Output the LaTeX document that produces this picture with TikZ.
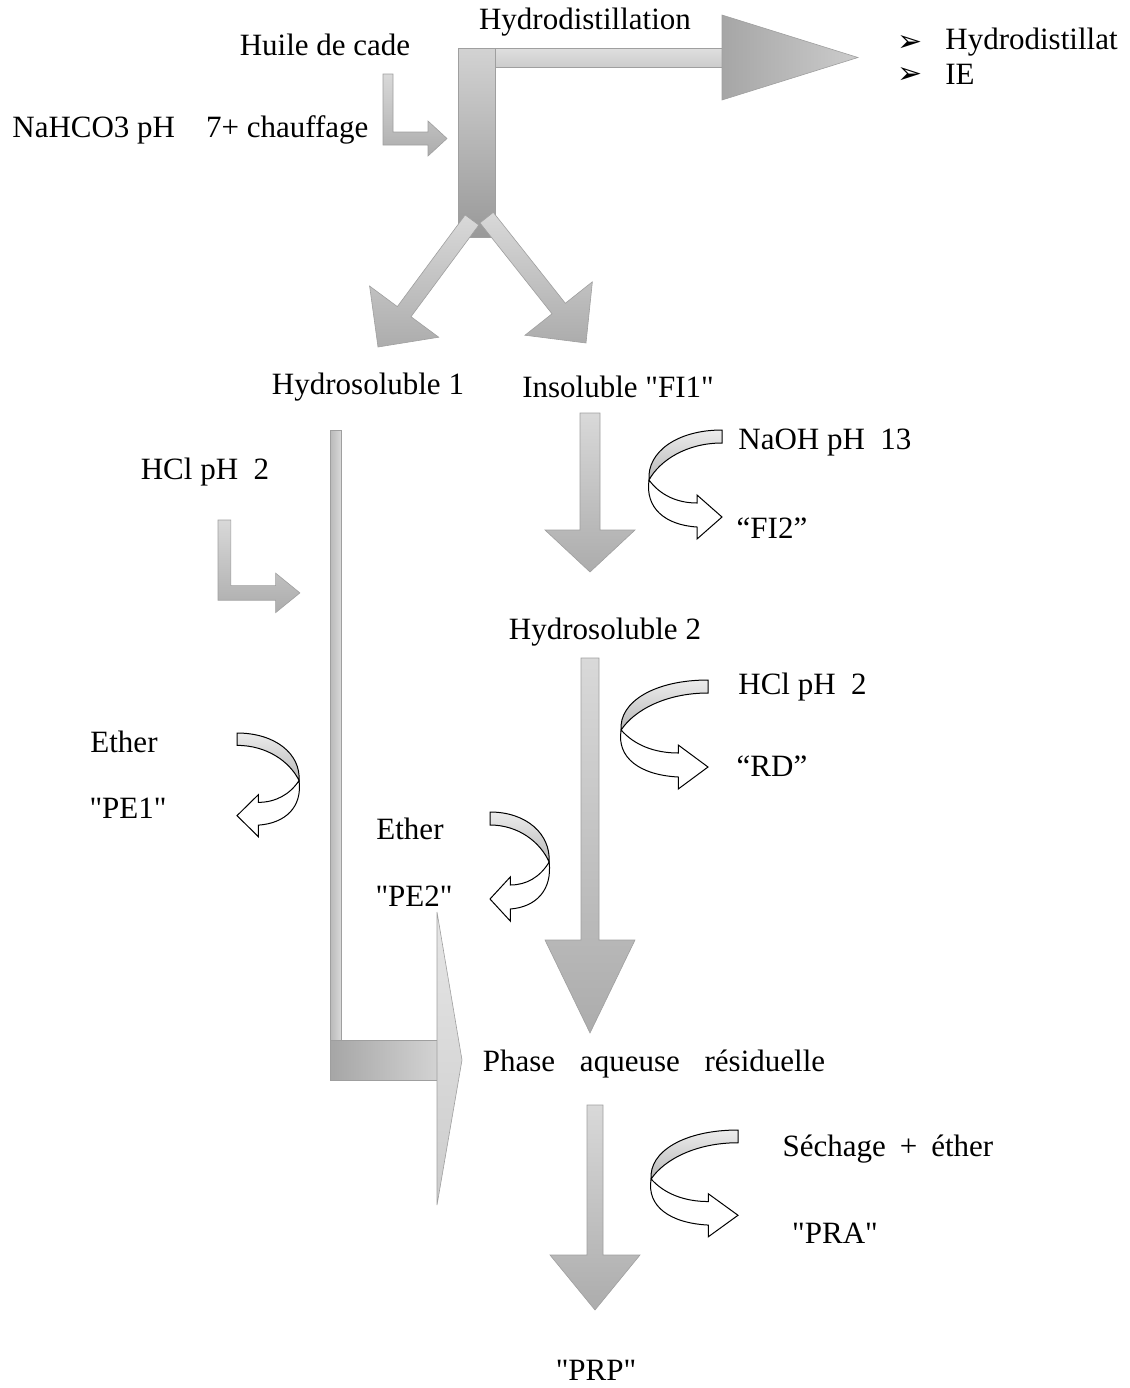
\documentclass[tikz,border=0pt]{standalone}
\usepackage{fontspec}
\setmainfont{Liberation Serif}[Ligatures=TeXOff]
\newfontfamily\bulletfont{DejaVu Sans}
\usepackage{tikz}
\usetikzlibrary{positioning}
\newcommand{\labelsize}{\fontsize{15.5}{18}\selectfont}
\tikzset{
    textnode/.style = {draw=none, fill=none, rectangle, inner sep=0em, node distance=0em, font=\labelsize},
    bulletnode/.style = {draw=none, fill=none, inner sep=0em, node distance=0em, font=\bulletfont\fontsize{15}{17}\selectfont},
    blockshade/.style = {draw=gray!75, line width=0.3pt, top color=gray!30, bottom color=gray!65},
    headshade/.style = {draw=gray!75, line width=0.3pt, left color=gray!70, right color=gray!40},
    barshade/.style = {draw=gray!75, line width=0.3pt, left color=gray!55, right color=gray!30},
    ribbonfront/.style = {draw=black, line width=0.5pt, top color=gray!15, bottom color=gray!55},
    ribbonback/.style = {draw=black, line width=0.5pt, fill=white}
}
\newcommand{\blockarrow}[7]{%
  \begin{scope}[shift={#2}, rotate=#3]
    \path[#1] (-#4,-#5) -- (-#6,-#5) -- (-#6,-#7) -- (0,0) -- (-#6,#7) -- (-#6,#5) -- (-#4,#5) -- cycle;
  \end{scope}}
\newcommand{\bentarrow}[3]{%
  \begin{scope}[shift={#1}, xscale=#2, yscale=#3]
    \path[blockshade] (0,0) -- (10,0) -- (10,58) -- (45,58) -- (45,47) -- (64,64.5) -- (45,82) -- (45,71) -- (0,71) -- cycle;
  \end{scope}}
\newcommand{\uturnarrow}[3]{%
  \begin{scope}[shift={#1}, xscale=#2, yscale=#3]
    \path[ribbonback] (-73,50) .. controls (-62,65) and (-45,73) .. (-25,73) -- (-25,65) -- (0,87) -- (-25,109) -- (-25,97) .. controls (-57,95) and (-77,78) .. (-73,50) -- cycle;
    \path[ribbonfront] (0,0) .. controls (-45,0) and (-75,22) .. (-73,50) .. controls (-62,30) and (-35,13) .. (0,13) -- cycle;
  \end{scope}}

\begin{document}
\begin{tikzpicture}[x=0.5pt, y=-0.5pt]
    \useasboundingbox (0,0) rectangle (1130,1388);

    \path[blockshade, top color=gray!25, bottom color=gray!40] (495,48) rectangle (722,67);
    \path[headshade] (722,15) -- (858,57.5) -- (722,100) -- cycle;
    \path[blockshade, top color=gray!35, bottom color=gray!80] (458,48) rectangle (495,237);
    \blockarrow{blockshade}{(378,347)}{-126.5}{158}{8.5}{44}{43}
    \blockarrow{blockshade}{(586,343)}{-51.6}{160}{8.5}{44}{43}

    \bentarrow{(383,74)}{1}{1}
    \bentarrow{(218,520)}{1.28}{1.13}

    \blockarrow{blockshade}{(590,572)}{-90}{159}{10}{42}{45}
    \blockarrow{blockshade}{(590,1033)}{-90}{375}{9}{93}{45}
    \blockarrow{blockshade}{(595,1310)}{-90}{205}{8}{55}{45}

    \path[barshade] (330,430) rectangle (341,1080);
    \path[barshade, left color=gray!70, right color=gray!35] (330,1040) rectangle (437,1080);
    \path[blockshade, top color=gray!20, bottom color=gray!40] (437,912) -- (462,1060) -- (437,1205) -- cycle;

    \uturnarrow{(722,430)}{1}{1}
    \uturnarrow{(708,680)}{1.19}{1}
    \uturnarrow{(738,1130)}{1.19}{0.98}
    \uturnarrow{(237,733)}{-0.85}{0.95}
    \uturnarrow{(490,812)}{-0.81}{1}

    \node [textnode, name=huile] at (325,45) {Huile de cade};
    \node [textnode, name=hydrodist] at (585,22) {Hydrodistillation};
    \node [textnode, name=nahco, anchor=west] at (12,130) {NaHCO3 pH\quad 7+ chauffage};
    \node [bulletnode, name=bullet1] at (910,43) {➢};
    \node [bulletnode, name=bullet2, below of=bullet1, yshift=-16pt] {➢};
    \node [textnode, name=distillat, anchor=west] at (945,42) {Hydrodistillat};
    \node [textnode, name=ie, anchor=west] at (945,74) {IE};

    \node [textnode, name=hydro1] at (368,387) {Hydrosoluble 1};
    \node [textnode, name=insol] at (618,387) {Insoluble "FI1"};
    \node [textnode, name=naoh, anchor=west] at (738,443) {NaOH pH\ \ 13};
    \node [textnode, name=fi2] at (772,528) {“FI2”};
    \node [textnode, name=hclleft] at (205,472) {HCl pH\ \ 2};
    \node [textnode, name=hydro2] at (605,632) {Hydrosoluble 2};
    \node [textnode, name=hclright, anchor=west] at (738,687) {HCl pH\ \ 2};
    \node [textnode, name=rd, below of=fi2, yshift=-119pt] {“RD”};

    \node [textnode, name=ether1] at (124,742) {Ether};
    \node [textnode, name=pe1, below of=ether1, xshift=2pt, yshift=-33pt] {"PE1"};
    \node [textnode, name=ether2] at (410,829) {Ether};
    \node [textnode, name=pe2, below of=ether2, xshift=2pt, yshift=-33.5pt] {"PE2"};

    \node [textnode, name=phase] at (654,1064) {Phase\hspace{0.8em}aqueuse\hspace{0.8em}résiduelle};
    \node [textnode, name=sechage] at (888,1149) {Séchage\hspace{0.45em}+\hspace{0.45em}éther};
    \node [textnode, name=pra] at (835,1233) {"PRA"};
    \node [textnode, name=prp] at (596,1370) {"PRP"};
\end{tikzpicture}
\end{document}
